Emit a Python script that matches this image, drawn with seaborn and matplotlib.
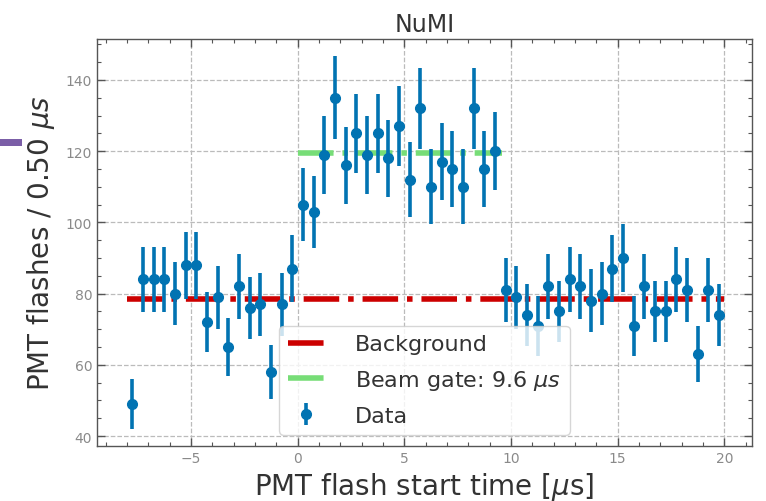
import numpy as np
import pandas as pd
import matplotlib
matplotlib.use("Agg")
import matplotlib.pyplot as plt
import seaborn as sns
from matplotlib.ticker import MultipleLocator
from matplotlib.patches import Rectangle

# ---- data ----
bin_centers = [-7.75, -7.25, -6.75, -6.25, -5.75, -5.25, -4.75, -4.25, -3.75, -3.25,
               -2.75, -2.25, -1.75, -1.25, -0.75, -0.25, 0.25, 0.75, 1.25, 1.75,
               2.25, 2.75, 3.25, 3.75, 4.25, 4.75, 5.25, 5.75, 6.25, 6.75,
               7.25, 7.75, 8.25, 8.75, 9.25, 9.75, 10.25, 10.75, 11.25, 11.75,
               12.25, 12.75, 13.25, 13.75, 14.25, 14.75, 15.25, 15.75, 16.25, 16.75,
               17.25, 17.75, 18.25, 18.75, 19.25, 19.75]
counts = [49, 84, 84, 84, 80, 88, 88, 72, 79, 65,
          82, 76, 77, 58, 77, 87, 105, 103, 119, 135,
          116, 125, 119, 125, 118, 127, 112, 132, 110, 117,
          115, 110, 132, 115, 120, 81, 79, 74, 71, 82,
          75, 84, 82, 78, 80, 87, 90, 71, 82, 75,
          75, 84, 81, 63, 81, 74]
count_errors = np.sqrt(np.array(counts, dtype=float))  # Poisson errors

bg_x = [-8.0, 20.0]
bg_y = [78.5, 78.5]
gate_x = [0.0, 9.6]
gate_y = [119.6, 119.6]

title = "NuMI"
xlabel = r"PMT flash start time [$\mu$s]"
ylabel = r"PMT flashes / 0.50 $\mu s$"
bg_label = "Background"
gate_label = r"Beam gate: 9.6 $\mu s$"
data_label = "Data"

# ---- style ----
sns.set_theme(style="ticks")
plt.rcParams["font.family"] = ["DejaVu Sans"]
plt.rcParams["mathtext.fontset"] = "dejavusans"

fig = plt.figure(figsize=(7.66, 5.02), dpi=100)
ax = fig.add_axes([97 / 766, 1 - 447 / 502, (752 - 97) / 766, (447 - 40) / 502])

df_bg = pd.DataFrame({"x": bg_x, "y": bg_y})
df_gate = pd.DataFrame({"x": gate_x, "y": gate_y})

sns.lineplot(data=df_bg, x="x", y="y", ax=ax, color="#cc0000", linewidth=4,
             linestyle="-.", label=bg_label, zorder=2)
sns.lineplot(data=df_gate, x="x", y="y", ax=ax, color="#77dd77", linewidth=4,
             linestyle="-.", label=gate_label, zorder=2)
ax.errorbar(bin_centers, counts, yerr=count_errors, fmt="o", color="#0173b2",
            markersize=7, elinewidth=2.6, capsize=0, label=data_label, zorder=3)

ax.set_xlim(-9.4, 21.3)
ax.set_ylim(37.2, 151.5)
ax.xaxis.set_major_locator(MultipleLocator(5))
ax.xaxis.set_minor_locator(MultipleLocator(1))
ax.yaxis.set_major_locator(MultipleLocator(20))
ax.yaxis.set_minor_locator(MultipleLocator(5))

ax.grid(True, which="major", linestyle="--", color="#bbbbbb", linewidth=0.9)
ax.set_axisbelow(True)

ax.tick_params(which="both", direction="in", top=True, right=True,
               color="#555555", labelcolor="#8a8a8a", labelsize=10)
ax.tick_params(which="major", length=6, width=1)
ax.tick_params(which="minor", length=3, width=0.8)
for sp in ax.spines.values():
    sp.set_color("#555555")
    sp.set_linewidth(1.0)

ax.set_xlabel(xlabel, fontsize=20, color="#333333", labelpad=4)
ax.set_ylabel(ylabel, fontsize=20, color="#333333", labelpad=6)
ax.set_title(title, fontsize=17, color="#333333", pad=6)

leg = ax.legend(loc="lower center", fontsize=16, handlelength=1.6,
                handletextpad=1.4, labelspacing=0.62,
                framealpha=0.8, edgecolor="0.8")
for t in leg.get_texts():
    t.set_color("#333333")

# slide artefact on the left edge
fig.add_artist(Rectangle((0, 1 - 147 / 502), 22 / 766, 7 / 502,
                         transform=fig.transFigure, color="#7b5ea7", lw=0))

fig.savefig("out.png", dpi=100)
